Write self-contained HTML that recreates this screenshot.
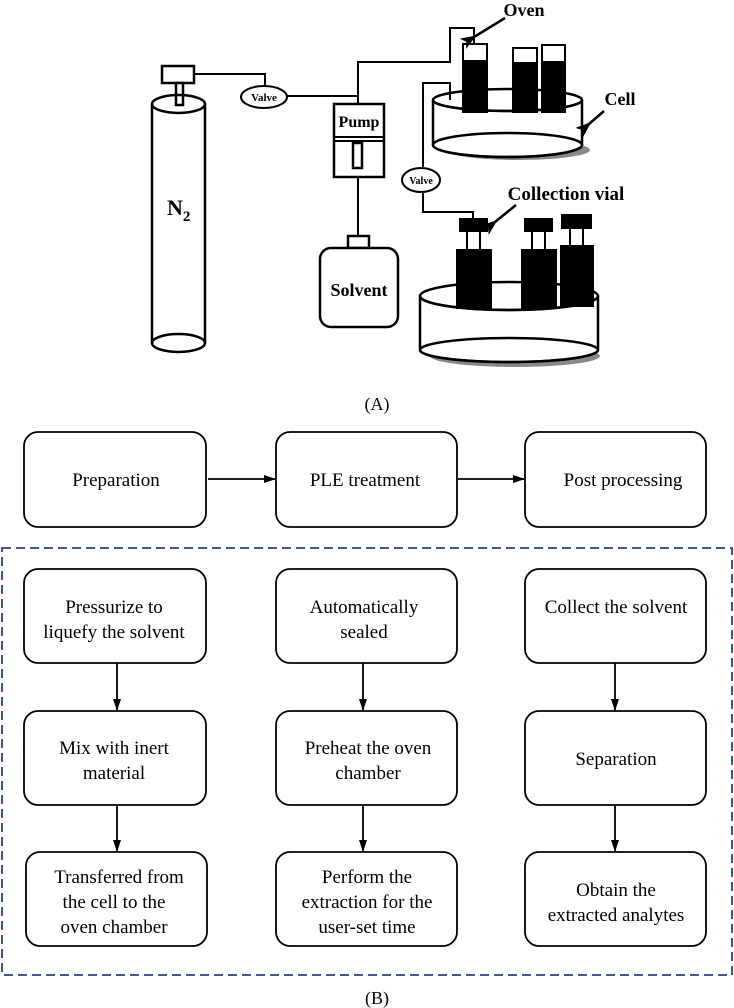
<!DOCTYPE html>
<html><head><meta charset="utf-8"><style>
html,body{margin:0;padding:0;background:#fff}
svg{display:block}
text{font-family:"Liberation Serif",serif}
</style></head><body>
<svg width="734" height="1008" viewBox="0 0 734 1008" xmlns="http://www.w3.org/2000/svg">
<defs>
<marker id="ar" markerWidth="12" markerHeight="8" refX="11" refY="4" orient="auto" markerUnits="userSpaceOnUse">
<path d="M0,0 L12,4 L0,8 Z" fill="#000"/></marker>
<marker id="ab" markerWidth="16" markerHeight="12" refX="3" refY="6" orient="auto" markerUnits="userSpaceOnUse">
<path d="M16,0 L0,6 L16,12 L12,6 Z" fill="#000"/></marker>
</defs>
<g fill="none" stroke="#000" stroke-width="2.5">
<rect x="162" y="66" width="32" height="17" fill="#fff"/>
<rect x="176" y="83" width="7" height="22" fill="#fff"/>
<path d="M152,104 V343 M205,104 V343"/>
<ellipse cx="178.5" cy="104" rx="26.5" ry="9"/>
<path d="M152,343 A26.5,9 0 0 0 205,343 A26.5,9 0 0 0 152,343"/>
<path d="M194,74 H265 V86" stroke-width="2"/>
<ellipse cx="264" cy="97" rx="23" ry="11" fill="#fff" stroke-width="2"/>
<path d="M287,96 H358 V104" stroke-width="2"/>
<path d="M358,96 V62 H450 V28 H474 V44" stroke-width="2"/>
<rect x="334" y="104" width="50" height="73" fill="#fff"/>
<path d="M334,137 H384 M334,141 H384" stroke-width="2"/>
<rect x="353" y="143" width="9" height="25"/>
<path d="M358,177 V236" stroke-width="2"/>
<rect x="348" y="236" width="21" height="12" fill="#fff"/>
<rect x="320" y="248" width="78" height="79" rx="11" fill="#fff"/>
<ellipse cx="518" cy="150" rx="72" ry="10" fill="#888" stroke="none"/>
<path d="M433,100 V145 A74.5,12 0 0 0 582,145 V100" fill="#fff"/>
<ellipse cx="507.5" cy="145" rx="74.5" ry="12"/>
<ellipse cx="507.5" cy="100" rx="74.5" ry="11" fill="#fff"/>
</g>
<g stroke="#000" stroke-width="2">
<rect x="463" y="44" width="24" height="68" fill="#000"/><rect x="464" y="45" width="22" height="15" fill="#fff" stroke="none"/>
<rect x="513" y="48" width="24" height="64" fill="#000"/><rect x="514" y="49" width="22" height="13" fill="#fff" stroke="none"/>
<rect x="542" y="45" width="23" height="67" fill="#000"/><rect x="543" y="46" width="21" height="15" fill="#fff" stroke="none"/>
</g>
<path d="M433,100 A74.5,11 0 0 0 582,100" fill="none" stroke="#000" stroke-width="2.5"/>
<g fill="none" stroke="#000" stroke-width="2">
<path d="M423,168 V83 H450 V100"/>
<ellipse cx="421" cy="180" rx="19" ry="12" fill="#fff"/>
<path d="M423,192 V212 H473 V219"/>
</g>
<g stroke="#000" stroke-width="2.5">
<ellipse cx="515" cy="356" rx="85" ry="11" fill="#888" stroke="none"/>
<path d="M420,296 V350 A89,12 0 0 0 598,350 V296" fill="#fff"/>
<ellipse cx="509" cy="350" rx="89" ry="12" fill="none"/>
<ellipse cx="509" cy="296" rx="89" ry="14" fill="#fff"/>
</g>
<g fill="#000" stroke="#000" stroke-width="2">
<rect x="460" y="219" width="27" height="12"/><rect x="467" y="231" width="13" height="19" fill="#fff"/><rect x="457" y="250" width="34" height="58"/>
<rect x="525" y="219" width="27" height="12"/><rect x="532" y="231" width="13" height="19" fill="#fff"/><rect x="522" y="250" width="34" height="58"/>
<rect x="562" y="215" width="29" height="13"/><rect x="570" y="228" width="13" height="18" fill="#fff"/><rect x="561" y="246" width="32" height="60"/>
</g>
<path d="M420,296 A89,14 0 0 0 598,296" fill="none" stroke="#000" stroke-width="2.5"/>
<g font-weight="bold" fill="#000">
<text x="167" y="215" font-size="22">N<tspan font-size="15" dy="6">2</tspan></text>
<text x="264" y="101" font-size="11" text-anchor="middle">Valve</text>
<text x="421" y="184" font-size="10" text-anchor="middle">Valve</text>
<text x="359" y="127" font-size="16" text-anchor="middle">Pump</text>
<text x="359" y="296" font-size="18" text-anchor="middle">Solvent</text>
<text x="524" y="16" font-size="18" text-anchor="middle">Oven</text>
<text x="620" y="105" font-size="18" text-anchor="middle">Cell</text>
<text x="566" y="200" font-size="19" text-anchor="middle">Collection vial</text>
</g>
<g stroke="#000" stroke-width="2.5" fill="none">
<line x1="505" y1="18" x2="474" y2="37" marker-end="url(#ab)"/>
<line x1="604" y1="111" x2="589" y2="124" marker-end="url(#ab)"/>
<line x1="516" y1="205" x2="495" y2="222" marker-end="url(#ab)"/>
</g>
<text x="377" y="410" font-size="18" text-anchor="middle">(A)</text>
<g fill="none" stroke="#000" stroke-width="1.8">
<rect x="24" y="432" width="182" height="95" rx="14"/>
<rect x="276" y="432" width="181" height="95" rx="14"/>
<rect x="525" y="432" width="181" height="95" rx="14"/>
<rect x="24" y="569" width="182" height="94" rx="14"/>
<rect x="276" y="569" width="181" height="94" rx="14"/>
<rect x="525" y="569" width="181" height="94" rx="14"/>
<rect x="24" y="711" width="182" height="94" rx="14"/>
<rect x="276" y="711" width="181" height="94" rx="14"/>
<rect x="525" y="711" width="181" height="94" rx="14"/>
<rect x="26" y="852" width="181" height="94" rx="14"/>
<rect x="276" y="852" width="181" height="94" rx="14"/>
<rect x="525" y="852" width="181" height="94" rx="14"/>
<path d="M208,479 H275" marker-end="url(#ar)"/>
<path d="M458,479 H524" marker-end="url(#ar)"/>
<path d="M117,663 V710" marker-end="url(#ar)"/>
<path d="M363,663 V710" marker-end="url(#ar)"/>
<path d="M615,663 V710" marker-end="url(#ar)"/>
<path d="M117,805 V851" marker-end="url(#ar)"/>
<path d="M363,805 V851" marker-end="url(#ar)"/>
<path d="M615,805 V851" marker-end="url(#ar)"/>
</g>
<rect x="2" y="548" width="730" height="427" fill="none" stroke="#2a3f8a" stroke-width="1.8" stroke-dasharray="9,5"/>
<g font-size="19" fill="#000" text-anchor="middle">
<text x="116" y="486">Preparation</text>
<text x="365" y="486">PLE treatment</text>
<text x="623" y="486">Post processing</text>
<text x="114" y="613">Pressurize to</text>
<text x="114" y="638">liquefy the solvent</text>
<text x="364" y="613">Automatically</text>
<text x="364" y="638">sealed</text>
<text x="616" y="613">Collect the solvent</text>
<text x="114" y="754">Mix with inert</text>
<text x="114" y="779">material</text>
<text x="368" y="754">Preheat the oven</text>
<text x="368" y="779">chamber</text>
<text x="616" y="765">Separation</text>
<text x="119" y="883">Transferred from</text>
<text x="114" y="908">the cell to the</text>
<text x="114" y="933">oven chamber</text>
<text x="367" y="883">Perform the</text>
<text x="367" y="908">extraction for the</text>
<text x="367" y="933">user-set time</text>
<text x="616" y="896">Obtain the</text>
<text x="616" y="921">extracted analytes</text>
</g>
<text x="377" y="1004" font-size="18" text-anchor="middle">(B)</text>
</svg>
</body></html>
